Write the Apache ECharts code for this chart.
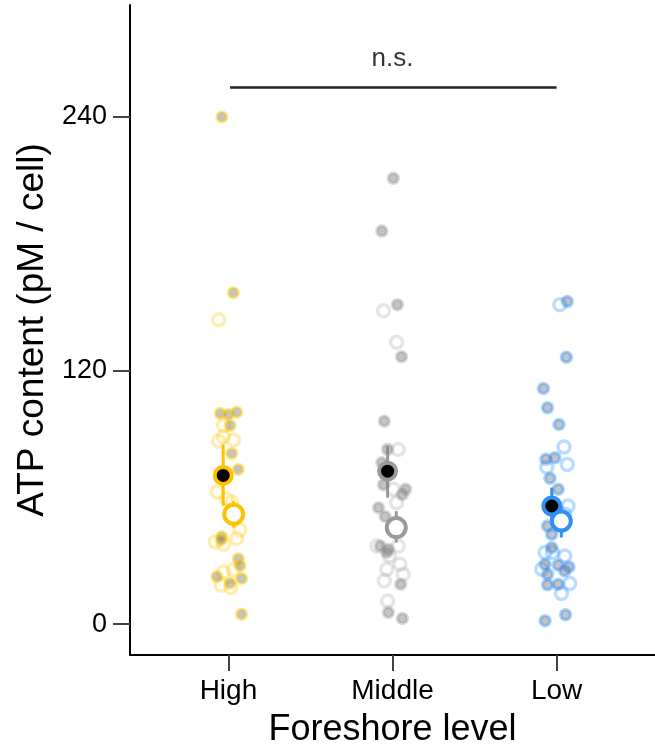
<!DOCTYPE html>
<html>
<head>
<meta charset="utf-8">
<script src="https://cdn.jsdelivr.net/npm/echarts@6/dist/echarts.min.js"></script>
<style>
  html, body { margin: 0; padding: 0; background: #fff; }
  #main { width: 655px; height: 753px; }
</style>
</head>
<body>
<div id="main"></div>
<script>
// categories and tick labels
const categories = ['High', 'Middle', 'Low'];
const yTicks = [0, 120, 240];
const groupColors = ['#FFC000', '#9A9A9A', '#2F8FF5'];

// individual points [x position (jittered), ATP]
const highSolid = [[0.95, 99.7], [1.00, 99.2], [1.05, 100.3], [1.01, 94], [1.02, 80.8], [1.06, 73.2],
  [0.96, 41.4], [0.955, 39.8], [1.06, 31], [1.07, 27.6], [0.93, 22.5], [1.08, 21.6], [1.01, 19.4],
  [1.08, 4.7], [0.96, 240], [1.03, 156.8]];
const highOpen = [[0.94, 144], [0.97, 94], [0.94, 86.6], [0.97, 88.7], [1.03, 87.1], [0.93, 62.5],
  [0.99, 59.4], [1.02, 57.6], [1.07, 44.6], [1.05, 40.5], [0.92, 38.9], [0.97, 37.8], [0.97, 24.7],
  [1.03, 25.7], [0.955, 18.4], [1.015, 17.3]];
const middleSolid = [[1.95, 96], [1.97, 82.7], [1.935, 76.4], [1.945, 66], [2.06, 61.4], [2.08, 63.8],
  [1.915, 55.1], [1.955, 50.9], [1.925, 37], [1.975, 35.4], [1.965, 33.9], [2.05, 18.9], [1.975, 5.5],
  [2.06, 2.7], [2.005, 211], [1.935, 186], [2.03, 151.2], [2.055, 126.5]];
const middleOpen = [[1.945, 148.3], [2.025, 133.4], [2.035, 82.7], [2.005, 63.8], [2.025, 57.5],
  [2.035, 37], [1.98, 32.3], [2.045, 28.3], [1.965, 26], [2.065, 23.6], [1.95, 20.5], [1.97, 11],
  [1.905, 37]];
const lowSolid = [[2.92, 111.5], [2.945, 102.4], [3.015, 94.5], [2.935, 78], [2.99, 78.7], [2.96, 69],
  [3.01, 63.8], [2.945, 46.4], [2.97, 42.5], [2.97, 36.2], [2.93, 28.3], [3.01, 28], [3.075, 27.1],
  [2.945, 23.6], [3.05, 25.2], [2.945, 18.6], [3.01, 18.9], [2.93, 1.6], [3.055, 4.4], [3.065, 152.7],
  [3.06, 126.3]];
const lowOpen = [[3.02, 151.2], [3.045, 83.8], [3.065, 75.6], [2.94, 74.3], [3.07, 55.9], [2.93, 33.9],
  [2.975, 33.9], [3.05, 32.3], [2.91, 26], [3.08, 19.2], [3.03, 14.5], [3.05, 52]];

// means with error range [x, mean, low, high]
const meanSolid = [[0.968, 70.4, 55.9, 85], [1.97, 72.4, 59.8, 84.2], [2.971, 55.9, 47, 64.6]];
const meanOpen = [[1.032, 52, 45.7, 58.3], [2.023, 45.7, 38.6, 53.5], [3.029, 48.8, 41, 55.9]];

// significance bracket
const bracket = [[1.01, 254], [3.0, 254]];
const bracketLabel = [[2, 267.5]];

const chart = echarts.init(document.getElementById('main'));

const halo = ['rgba(255,205,0,0.42)', 'rgba(150,150,150,0.35)', 'rgba(45,145,255,0.4)'];
const ring = ['rgba(255,200,0,0.3)', 'rgba(150,150,150,0.25)', 'rgba(45,145,255,0.32)'];

function solidSeries(data, i) {
  return {
    type: 'scatter', data: data, symbolSize: 10, silent: true,
    itemStyle: { color: 'rgba(125,125,125,0.45)', borderColor: halo[i], borderWidth: 3.5, opacity: 1 }
  };
}
function openSeries(data, i) {
  return {
    type: 'scatter', data: data, symbolSize: 12, silent: true,
    itemStyle: { color: 'rgba(255,255,255,0)', borderColor: ring[i], borderWidth: 3.5, opacity: 1 }
  };
}
function errSeries(data) {
  return {
    type: 'custom', data: data, silent: true,
    renderItem: function (params, api) {
      const x = api.value(0);
      const lo = api.coord([x, api.value(2)]);
      const hi = api.coord([x, api.value(3)]);
      return {
        type: 'line',
        shape: { x1: lo[0], y1: lo[1], x2: hi[0], y2: hi[1] },
        style: { stroke: groupColors[params.dataIndex], lineWidth: 3 }
      };
    }
  };
}
function meanSeries(data, fill, size) {
  return {
    type: 'scatter', data: data.map(function (d, i) {
      return { value: [d[0], d[1]], itemStyle: { borderColor: groupColors[i] } };
    }),
    symbolSize: size, silent: true, z: 5,
    itemStyle: { color: fill, borderWidth: 4, opacity: 1 }
  };
}

const font = 'Liberation Sans, Arial, sans-serif';

chart.setOption({
  animation: false,
  backgroundColor: '#fff',
  grid: { left: 130, right: 0, top: 5, bottom: 97 },
  xAxis: {
    type: 'value', min: 0.4, max: 3.6,
    name: 'Foreshore level', nameLocation: 'middle', nameGap: 57,
    nameTextStyle: { fontFamily: font, fontSize: 36, color: '#000' },
    splitLine: { show: false },
    axisLine: { show: true, onZero: false, lineStyle: { color: '#000', width: 2 } },
    axisTick: { show: true, customValues: [1, 2, 3], length: 16, lineStyle: { color: '#444', width: 2 } },
    axisLabel: {
      customValues: [1, 2, 3], margin: 22, fontFamily: font, fontSize: 28, color: '#000',
      formatter: function (v) { return categories[Math.round(v) - 1]; }
    }
  },
  yAxis: {
    type: 'value', min: -14.6, max: 293,
    name: 'ATP content (pM / cell)', nameLocation: 'middle', nameGap: 74,
    nameTextStyle: { fontFamily: font, fontSize: 37, color: '#000' },
    splitLine: { show: false },
    axisLine: { show: true, onZero: false, lineStyle: { color: '#000', width: 2 } },
    axisTick: { show: true, customValues: yTicks, length: 17, lineStyle: { color: '#444', width: 2 } },
    axisLabel: { customValues: yTicks, margin: 23, fontFamily: font, fontSize: 27, color: '#000' }
  },
  series: [
    openSeries(highOpen, 0), solidSeries(highSolid, 0),
    openSeries(middleOpen, 1), solidSeries(middleSolid, 1),
    openSeries(lowOpen, 2), solidSeries(lowSolid, 2),
    errSeries(meanSolid), errSeries(meanOpen),
    meanSeries(meanSolid, '#000', 17),
    meanSeries(meanOpen, '#fff', 19),
    {
      type: 'line', data: bracket, symbol: 'none', silent: true,
      lineStyle: { color: '#222', width: 2.5 }
    },
    {
      type: 'scatter', data: bracketLabel, symbolSize: 1, silent: true,
      itemStyle: { color: 'rgba(0,0,0,0)' },
      label: {
        show: true, position: 'inside', formatter: 'n.s.',
        fontFamily: font, fontSize: 26, color: '#000'
      }
    }
  ]
});
</script>
</body>
</html>
